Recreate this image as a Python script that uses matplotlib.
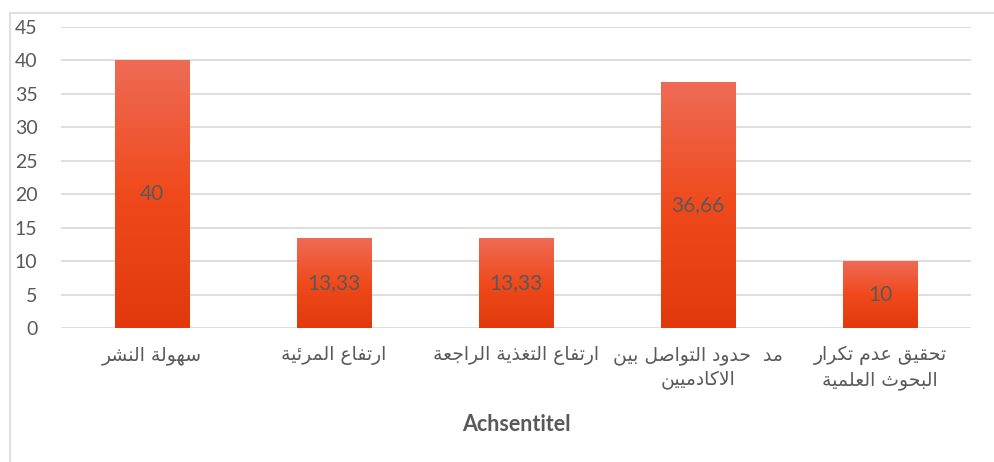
import numpy as np
import matplotlib
matplotlib.use("Agg")
import matplotlib.pyplot as plt
from matplotlib.colors import LinearSegmentedColormap
from matplotlib.lines import Line2D

# data
categories = [
    "سهولة النشر",
    "ارتفاع المرئية",
    "ارتفاع التغذية الراجعة",
    "مد  حدود التواصل بين\nالاكادميين",
    "تحقيق عدم تكرار\nالبحوث العلمية",
]
values = [40, 13.33, 13.33, 36.66, 10]
value_labels = ["40", "13,33", "13,33", "36,66", "10"]
y_ticks = list(range(0, 50, 5))
x_title = "Achsentitel"

# minimal arabic shaping (matplotlib has no bidi / joining support)
FORMS = {
    "\u0626": (0xFE89, 0xFE8A, 0xFE8B, 0xFE8C),
    "\u0627": (0xFE8D, 0xFE8E, None, None),
    "\u0628": (0xFE8F, 0xFE90, 0xFE91, 0xFE92),
    "\u0629": (0xFE93, 0xFE94, None, None),
    "\u062A": (0xFE95, 0xFE96, 0xFE97, 0xFE98),
    "\u062B": (0xFE99, 0xFE9A, 0xFE9B, 0xFE9C),
    "\u062C": (0xFE9D, 0xFE9E, 0xFE9F, 0xFEA0),
    "\u062D": (0xFEA1, 0xFEA2, 0xFEA3, 0xFEA4),
    "\u062E": (0xFEA5, 0xFEA6, 0xFEA7, 0xFEA8),
    "\u062F": (0xFEA9, 0xFEAA, None, None),
    "\u0630": (0xFEAB, 0xFEAC, None, None),
    "\u0631": (0xFEAD, 0xFEAE, None, None),
    "\u0632": (0xFEAF, 0xFEB0, None, None),
    "\u0633": (0xFEB1, 0xFEB2, 0xFEB3, 0xFEB4),
    "\u0634": (0xFEB5, 0xFEB6, 0xFEB7, 0xFEB8),
    "\u0635": (0xFEB9, 0xFEBA, 0xFEBB, 0xFEBC),
    "\u0636": (0xFEBD, 0xFEBE, 0xFEBF, 0xFEC0),
    "\u0637": (0xFEC1, 0xFEC2, 0xFEC3, 0xFEC4),
    "\u0638": (0xFEC5, 0xFEC6, 0xFEC7, 0xFEC8),
    "\u0639": (0xFEC9, 0xFECA, 0xFECB, 0xFECC),
    "\u063A": (0xFECD, 0xFECE, 0xFECF, 0xFED0),
    "\u0641": (0xFED1, 0xFED2, 0xFED3, 0xFED4),
    "\u0642": (0xFED5, 0xFED6, 0xFED7, 0xFED8),
    "\u0643": (0xFED9, 0xFEDA, 0xFEDB, 0xFEDC),
    "\u0644": (0xFEDD, 0xFEDE, 0xFEDF, 0xFEE0),
    "\u0645": (0xFEE1, 0xFEE2, 0xFEE3, 0xFEE4),
    "\u0646": (0xFEE5, 0xFEE6, 0xFEE7, 0xFEE8),
    "\u0647": (0xFEE9, 0xFEEA, 0xFEEB, 0xFEEC),
    "\u0648": (0xFEED, 0xFEEE, None, None),
    "\u0649": (0xFEEF, 0xFEF0, None, None),
    "\u064A": (0xFEF1, 0xFEF2, 0xFEF3, 0xFEF4),
}


def joins_next(c):
    return c in FORMS and FORMS[c][2] is not None


def shape_line(s):
    # merge lam + alef first
    chars = []
    i = 0
    while i < len(s):
        if s[i] == "\u0644" and i + 1 < len(s) and s[i + 1] == "\u0627":
            chars.append("LA")
            i += 2
        else:
            chars.append(s[i])
            i += 1
    out = []
    for k, c in enumerate(chars):
        prev = chars[k - 1] if k > 0 else None
        nxt = chars[k + 1] if k + 1 < len(chars) else None
        p = prev is not None and joins_next(prev)
        if c == "LA":
            out.append(chr(0xFEFC if p else 0xFEFB))
            continue
        if c not in FORMS:
            out.append(c)
            continue
        n = joins_next(c) and nxt is not None and (nxt in FORMS or nxt == "LA")
        iso, fin, ini, med = FORMS[c]
        if p and n:
            out.append(chr(med))
        elif p:
            out.append(chr(fin))
        elif n:
            out.append(chr(ini))
        else:
            out.append(chr(iso))
    return "".join(out)[::-1]


def shape(s):
    return "\n".join(shape_line(line) for line in s.split("\n"))


# colours
text_col = "#595959"
grid_col = "#DEDEDA"
bar_cmap = LinearSegmentedColormap.from_list(
    "bar", ["#E1390B", "#F04A1C", "#EE6B56"])

fig = plt.figure(figsize=(9.94, 4.62), dpi=100)
ax = fig.add_axes([61 / 994, 1 - 328 / 462, 910 / 994, 301 / 462])

x = np.arange(len(categories))
width = 0.407
bars = ax.bar(x, values, width=width, color="none", zorder=2)

grad = np.linspace(0, 1, 256).reshape(-1, 1)
for b, lab in zip(bars, value_labels):
    x0, h = b.get_x(), b.get_height()
    ax.imshow(grad, extent=[x0, x0 + b.get_width(), 0, h], origin="lower",
              aspect="auto", cmap=bar_cmap, zorder=2)
    ax.text(x0 + b.get_width() / 2, h / 2, lab, ha="center", va="center",
            fontsize=15, color=text_col, family=["Lato", "DejaVu Sans"], zorder=3)

ax.set_xlim(-0.5, len(categories) - 0.5)
ax.set_ylim(0, 45)
ax.set_yticks(y_ticks)
ax.set_yticklabels([str(t) for t in y_ticks], family=["Lato", "DejaVu Sans"],
                   fontsize=14, color=text_col)
ax.set_xticks(x)
ax.set_xticklabels([shape(c) for c in categories], family="DejaVu Sans",
                   fontsize=13.5, color=text_col, linespacing=1.32,
                   multialignment="center")
ax.tick_params(axis="y", length=0, pad=17)
ax.tick_params(axis="x", length=0, pad=13)
ax.grid(axis="y", color=grid_col, linewidth=1.4, zorder=0)
ax.set_axisbelow(True)
for sp in ax.spines.values():
    sp.set_visible(False)

ax.set_xlabel(x_title, fontsize=15.5, fontweight="bold", color=text_col,
              family=["Lato", "DejaVu Sans"], labelpad=17)

# outer chart border
fig.add_artist(Line2D([10 / 994, 1.0], [1 - 12.5 / 462] * 2, color="#D9D9D9",
                      linewidth=1.2, transform=fig.transFigure))
fig.add_artist(Line2D([10 / 994] * 2, [0, 1 - 12.5 / 462], color="#D9D9D9",
                      linewidth=1.2, transform=fig.transFigure))

fig.savefig("out.png", dpi=100)
